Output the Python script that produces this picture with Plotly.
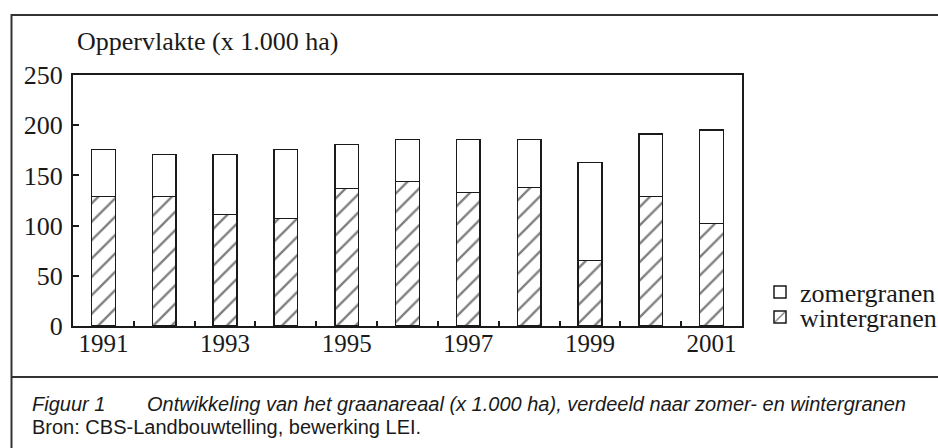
import plotly.graph_objects as go

# ---- data ----
years = [1991, 1992, 1993, 1994, 1995, 1996, 1997, 1998, 1999, 2000, 2001]
wintergranen = [129, 129, 111, 107, 137, 144, 133, 138, 65, 129, 102]
zomergranen = [47, 42, 60, 69, 44, 42, 53, 48, 98, 62, 93]
label_years = [1991, 1993, 1995, 1997, 1999, 2001]
y_ticks = [0, 50, 100, 150, 200, 250]

W, H = 938, 448
L, R, T, B = 73, 742, 75, 326  # plot area in pixels


def px(x):
    return (x - L) / (R - L)


def py(y):
    return (B - y) / (B - T)


SERIF = "Liberation Serif, Times New Roman, serif"
SANS = "Liberation Sans, Arial, sans-serif"
INK = "#1a1a1a"

fig = go.Figure()
fig.add_trace(go.Bar(
    x=years, y=wintergranen, name="wintergranen", width=0.39, legend="legend2",
    marker=dict(color="white", line=dict(color=INK, width=1.5),
                pattern=dict(shape="/", fgcolor="#000000", bgcolor="white", size=13, solidity=0.18)),
))
fig.add_trace(go.Bar(
    x=years, y=zomergranen, name="zomergranen", width=0.39, legend="legend",
    marker=dict(color="white", line=dict(color=INK, width=1.5)),
))

legend_style = dict(xanchor="left", yanchor="middle",
                    font=dict(family=SERIF, size=26, color=INK),
                    bgcolor="rgba(0,0,0,0)", itemwidth=30)

fig.update_layout(
    width=W, height=H,
    margin=dict(l=L, r=W - R, t=T, b=H - B, pad=0, autoexpand=False),
    barmode="stack",
    plot_bgcolor="white", paper_bgcolor="white",
    font=dict(family=SERIF, size=26, color=INK),
    showlegend=True,
    legend=dict(x=px(760), y=py(292), **legend_style),
    legend2=dict(x=px(760), y=py(317), **legend_style),
    xaxis=dict(range=[1990.5, 2001.5], tickvals=label_years,
               ticktext=[str(v) for v in label_years],
               ticks="", showgrid=False, zeroline=False,
               showline=True, linecolor=INK, linewidth=2, mirror=True,
               ticklabelstandoff=-6,
               tickfont=dict(family=SERIF, size=25, color=INK),
               minor=dict(tickvals=[y + 0.5 for y in years[:-1]], ticks="inside",
                          ticklen=5, tickwidth=1.5, tickcolor=INK, showgrid=False)),
    yaxis=dict(range=[0, 250], tickvals=y_ticks, ticks="inside", ticklen=6,
               tickwidth=1.5, tickcolor=INK, showgrid=False, zeroline=False,
               showline=True, linecolor=INK, linewidth=2, mirror=True,
               ticklabelstandoff=3,
               tickfont=dict(family=SERIF, size=26, color=INK)),
)

annotations = [
    dict(text="Oppervlakte (x 1.000 ha)", x=px(75), y=py(42), xanchor="left", yanchor="middle",
         font=dict(family=SERIF, size=26, color=INK)),
    dict(text="<i>Figuur 1</i>", x=px(30), y=py(404), xanchor="left", yanchor="middle",
         font=dict(family=SANS, size=20, color=INK)),
    dict(text="<i>Ontwikkeling van het graanareaal (x 1.000 ha), verdeeld naar zomer- en wintergranen</i>",
         x=px(145), y=py(404), xanchor="left", yanchor="middle",
         font=dict(family=SANS, size=20, color=INK)),
    dict(text="Bron: CBS-Landbouwtelling, bewerking LEI.", x=px(30), y=py(427),
         xanchor="left", yanchor="middle", font=dict(family=SANS, size=20, color=INK)),
]
for a in annotations:
    a.update(xref="paper", yref="paper", showarrow=False)
fig.update_layout(annotations=annotations)

frame = "#333333"
shapes = [
    dict(type="line", x0=px(11), x1=px(945), y0=py(15), y1=py(15)),
    dict(type="line", x0=px(11.5), x1=px(11.5), y0=py(14), y1=py(455)),
    dict(type="line", x0=px(11), x1=px(945), y0=py(377), y1=py(377)),
]
for s in shapes:
    s.update(xref="paper", yref="paper", line=dict(color=frame, width=2), layer="above")
fig.update_layout(shapes=shapes)

fig.write_html("out.html", config={"displayModeBar": False},
               post_script="document.body.style.margin='0';document.body.style.overflow='hidden';")
